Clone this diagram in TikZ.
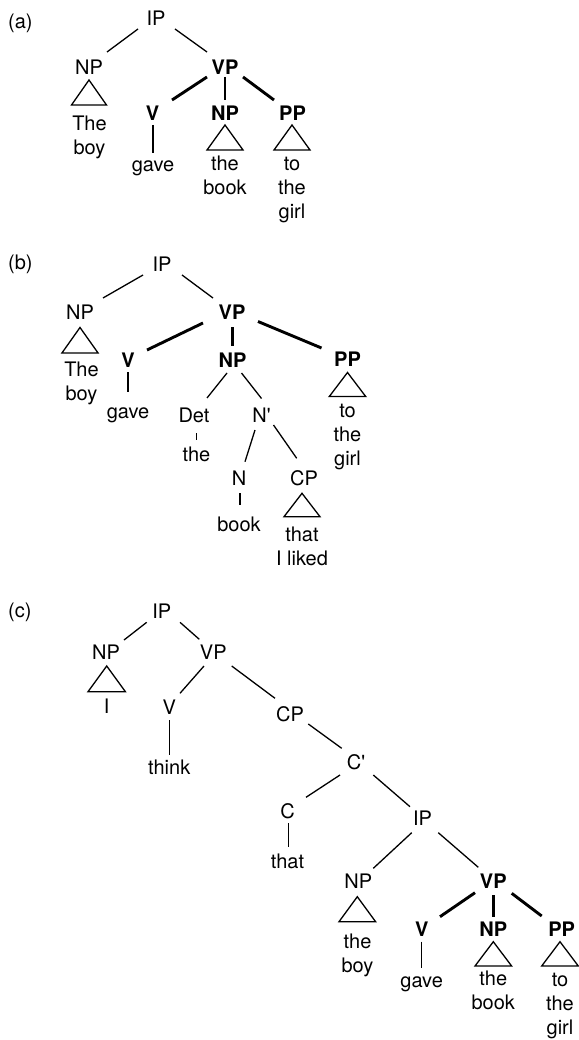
\documentclass[tikz,border=0pt]{standalone}
\usepackage{fontspec}
\setmainfont{TeX Gyre Heros}
\newcommand\myst{\rule{0pt}{15pt}}
\newcommand\ed[5][ln]{\draw[#1] ([shift={#3}]#2) -- ([shift={#5}]#4);}
\newcommand\tri[5]{\draw[ln] ([shift={(#2,#3)}]#1.center) -- ++(-#4,#5) -- ++(2*#4,0) -- cycle;}
\begin{document}
\begin{tikzpicture}[x=1pt,y=-1pt,
  ln/.style={line width=1.3pt},
  tk/.style={line width=2.9pt},
  lab/.style={font=\fontsize{20}{24}\selectfont, text height=14.3pt, text depth=0pt, inner sep=0pt, anchor=center},
  blab/.style={lab, font=\fontsize{20}{24}\selectfont\bfseries},
  leaf/.style={font=\fontsize{20}{24}\selectfont, align=center, anchor=north, inner sep=0pt},
  tag/.style={font=\fontsize{20}{24}\selectfont, anchor=base west, inner sep=0pt}]
\useasboundingbox (0,0) rectangle (578,1040);

% ---------------- (a)
\node[tag] (la) at (8,28.5) {(a)};
\node[lab] (IPa) at (156,18.5) {IP};
\node[lab] (NPa) at (89,67) {NP};
\node[blab] (VPa) at (225,67) {VP};
\node[blab] (Va) at (152.5,113.5) {V};
\node[blab] (NPa2) at (225,113) {NP};
\node[blab] (PPa) at (292.5,113) {PP};
\node[leaf] (boya) at (89.5,115) {\myst The\\boy};
\node[leaf] (gavea) at (153,156) {\myst gave};
\node[leaf] (booka) at (225,155) {\myst the\\book};
\node[leaf] (girla) at (292,155) {\myst to\\the\\girl};
\ed{IPa.center}{(-18,10.5)}{NPa.center}{(18,-15)}
\ed{IPa.center}{(19,10.5)}{VPa.center}{(-18,-15)}
\ed[tk]{VPa.center}{(-18,10)}{Va.center}{(19.5,-13.5)}
\ed[tk]{VPa.center}{(0,10)}{NPa2.center}{(0,-13)}
\ed[tk]{VPa.center}{(18,10)}{PPa.center}{(-18.5,-13)}
\ed{Va.center}{(0.5,11.5)}{gavea.north}{(0,-3)}
\tri{NPa}{0}{13}{17.5}{25}
\tri{NPa2}{0}{12}{18}{25}
\tri{PPa}{-0.5}{12}{18}{25}

% ---------------- (b)
\node[tag] (lb) at (8,270) {(b)};
\node[lab] (IPb) at (162,264.5) {IP};
\node[lab] (NPb) at (80,312.5) {NP};
\node[blab] (VPb) at (232,312.5) {VP};
\node[blab] (Vb) at (128,360.5) {V};
\node[blab] (NPb2) at (232.5,360) {NP};
\node[blab] (PPb) at (347.5,359.5) {PP};
\node[lab] (Det) at (194,415.5) {Det};
\node[lab] (Nbar) at (261.5,415.5) {N\textquotesingle};
\node[lab] (Nb) at (239,478) {N};
\node[lab] (CPb) at (304,478) {CP};
\node[leaf] (boyb) at (81.5,361.7) {\myst The\\boy};
\node[leaf] (gaveb) at (128,403.5) {\myst gave};
\node[leaf] (theb) at (196.5,446.7) {\myst the};
\node[leaf] (girlb) at (347.5,402) {\myst to\\the\\girl};
\node[leaf] (bookb) at (239,516.7) {\myst book};
\node[leaf] (likedb) at (302,526.7) {\myst that\\I liked};
\ed{IPb.center}{(-19,10.5)}{NPb.center}{(23,-14.5)}
\ed{IPb.center}{(20,10.5)}{VPb.center}{(-19,-14.5)}
\ed[tk]{VPb.center}{(-29,10.5)}{Vb.center}{(19,-10.5)}
\ed[tk]{VPb.center}{(0.5,14.5)}{NPb2.center}{(0,-14)}
\ed[tk]{VPb.center}{(26,9)}{PPb.center}{(-26,-11.5)}
\ed{Vb.center}{(0,11.5)}{gaveb.north}{(0,-11.5)}
\ed{NPb2.center}{(-5.5,13)}{Det.center}{(13,-17.5)}
\ed{NPb2.center}{(9,13)}{Nbar.center}{(0,-17)}
\ed{Det.center}{(2.5,17.5)}{theb.north}{(0,-6.7)}
\ed{Nbar.center}{(-6.5,14.5)}{Nb.center}{(6,-16.3)}
\ed{Nbar.center}{(12,9.5)}{CPb.center}{(-7.3,-19.7)}
\ed{Nb.center}{(1,15.3)}{bookb.north}{(1,-11.7)}
\tri{NPb}{0}{15}{18}{25.4}
\tri{PPb}{0}{13}{18.2}{24}
\tri{CPb}{-2}{15.3}{18}{23.4}

% ---------------- (c)
\node[tag] (lc) at (8,617.7) {(c)};
\node[lab] (IPc) at (161.7,611.7) {IP};
\node[lab] (NPc) at (106,652.5) {NP};
\node[lab] (VPc) at (213.3,652.5) {VP};
\node[lab] (Vc) at (169.2,707.5) {V};
\node[lab] (CPc) at (290,714) {CP};
\node[lab] (Cbar) at (356,762.5) {C\textquotesingle};
\node[lab] (Cc) at (287.5,811) {C};
\node[lab] (IPc2) at (422.5,818) {IP};
\node[lab] (NPc2) at (358.3,881) {NP};
\node[blab] (VPc2) at (493.3,881) {VP};
\node[blab] (Vc2) at (421.7,929) {V};
\node[blab] (NPc3) at (493.3,929) {NP};
\node[blab] (PPc2) at (561.7,929) {PP};
\node[leaf] (Ic) at (106.7,698) {\myst I};
\node[leaf] (thinkc) at (169.2,759.6) {\myst think};
\node[leaf] (thatc) at (287.5,853) {\myst that};
\node[leaf] (boyc) at (357.5,933.3) {\myst the\\boy};
\node[leaf] (gavec) at (421.7,972) {\myst gave};
\node[leaf] (bookc) at (493.3,970) {\myst the\\book};
\node[leaf] (girlc) at (560,971.7) {\myst to\\the\\girl};
\ed{IPc.center}{(-15,10.6)}{NPc.center}{(18,-12.5)}
\ed{IPc.center}{(18.3,10.6)}{VPc.center}{(-14,-13.2)}
\ed{VPc.center}{(-9.3,13.5)}{Vc.center}{(10.8,-14.2)}
\ed{VPc.center}{(18.4,13.5)}{CPc.center}{(-15,-15.7)}
\ed{Vc.center}{(0,12.5)}{thinkc.north}{(0,-4.6)}
\ed{CPc.center}{(18.3,10)}{Cbar.center}{(-14.3,-14.2)}
\ed{Cbar.center}{(-16,12.5)}{Cc.center}{(18.5,-13.7)}
\ed{Cbar.center}{(17.3,12.5)}{IPc2.center}{(-12.5,-11.3)}
\ed{Cc.center}{(0.8,12.3)}{thatc.north}{(0.8,-6.3)}
\ed{IPc2.center}{(-10.8,14.7)}{NPc2.center}{(15,-12.7)}
\ed{IPc2.center}{(15.8,14.7)}{VPc2.center}{(-15,-13.7)}
\ed[tk]{VPc2.center}{(-18.3,11.7)}{Vc2.center}{(18.3,-12.3)}
\ed[tk]{VPc2.center}{(0,14)}{NPc3.center}{(0,-12.3)}
\ed[tk]{VPc2.center}{(18.4,12.3)}{PPc2.center}{(-20,-13)}
\ed{Vc2.center}{(0,12.7)}{gavec.north}{(0,-3.7)}
\tri{NPc}{0.7}{13.5}{18.7}{25.7}
\tri{NPc2}{-1}{15.7}{18.3}{25}
\tri{NPc3}{0}{12.7}{18.3}{24.3}
\tri{PPc2}{-1.7}{12.7}{18.3}{24.3}
\end{tikzpicture}
\end{document}
